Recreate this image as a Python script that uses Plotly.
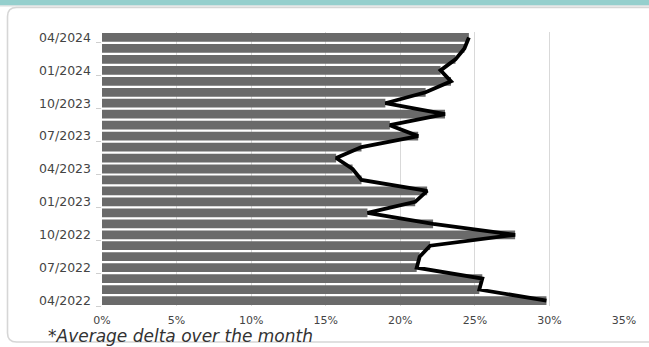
import plotly.graph_objects as go

# Monthly average delta, oldest month first
months = [
    "04/2022", "05/2022", "06/2022", "07/2022", "08/2022", "09/2022",
    "10/2022", "11/2022", "12/2022", "01/2023", "02/2023", "03/2023",
    "04/2023", "05/2023", "06/2023", "07/2023", "08/2023", "09/2023",
    "10/2023", "11/2023", "12/2023", "01/2024", "02/2024", "03/2024",
    "04/2024",
]
avg_delta = [
    29.8, 25.3, 25.5, 21.1, 21.3, 22.0,
    27.7, 22.2, 17.8, 21.0, 21.8, 17.4,
    16.8, 15.7, 17.4, 21.2, 19.3, 23.0,
    19.0, 21.7, 23.4, 22.7, 23.7, 24.3,
    24.6,
]
labelled_months = ["04/2022", "07/2022", "10/2022", "01/2023", "04/2023",
                   "07/2023", "10/2023", "01/2024", "04/2024"]
x_ticks = [0, 5, 10, 15, 20, 25, 30, 35]
footnote = "*Average delta over the month"

W, H = 649, 347
L, R, T, B = 102, 25, 32, 41
PW, PH = W - L - R, H - T - B

def px_x(px):
    return (px - L) / PW

def px_y(py):
    return (H - B - py) / PH

pos = list(range(len(months)))
label_pos = [months.index(m) for m in labelled_months]

FONT = "DejaVu Sans"
TXT = "#444444"

fig = go.Figure()
fig.add_trace(go.Bar(
    x=avg_delta, y=pos, orientation="h",
    marker=dict(color="#6a6a6a", line=dict(width=0)),
    hoverinfo="skip",
))
fig.add_trace(go.Scatter(
    x=avg_delta, y=pos, mode="lines",
    line=dict(color="#000000", width=3.8),
    hoverinfo="skip",
))

# card frame and coloured header strip
r = 9
x0, y0, x1, y1 = px_x(7.5), px_y(7.5), px_x(720), px_y(342)
rx, ry = r / PW, r / PH
card = (f"M {x1},{y0} L {x0+rx},{y0} Q {x0},{y0} {x0},{y0-ry} "
        f"L {x0},{y1+ry} Q {x0},{y1} {x0+rx},{y1} L {x1},{y1}")
shapes = [
    dict(type="rect", xref="paper", yref="paper", layer="below",
         x0=px_x(-5), x1=px_x(W + 5), y0=px_y(5.5), y1=px_y(-5),
         fillcolor="#95cfcd", line=dict(width=0)),
    dict(type="rect", xref="paper", yref="paper", layer="below",
         x0=px_x(-5), x1=px_x(W + 5), y0=px_y(6.5), y1=px_y(5.5),
         fillcolor="#dcdcdc", line=dict(width=0)),
    dict(type="path", xref="paper", yref="paper", layer="below",
         path=card, line=dict(color="#d6d6d6", width=1.6)),
]

fig.update_layout(
    width=W, height=H,
    margin=dict(l=L, r=R, t=T, b=B, pad=0),
    paper_bgcolor="#ffffff", plot_bgcolor="#ffffff",
    showlegend=False, bargap=0.2,
    font=dict(family=FONT, size=11, color=TXT),
    shapes=shapes,
    xaxis=dict(
        range=[0, 35], tickvals=x_ticks,
        ticktext=[f"{v}%" for v in x_ticks],
        showgrid=True, gridcolor="#d9d9d9", gridwidth=1.2,
        zeroline=False, showline=False, ticks="",
        ticklabelstandoff=6,
        tickfont=dict(family=FONT, size=11, color=TXT),
    ),
    yaxis=dict(
        range=[-0.5, len(months) - 0.5],
        tickvals=label_pos, ticktext=labelled_months,
        showgrid=False, zeroline=False, showline=False, ticks="",
        ticklabelstandoff=10,
        tickfont=dict(family=FONT, size=12.5, color=TXT),
        minor=dict(tickvals=[p - 0.5 for p in label_pos], ticks="outside",
                   ticklen=5, tickcolor="#cfcfcf", tickwidth=1.2,
                   showgrid=False),
    ),
    annotations=[dict(
        text=footnote, xref="paper", yref="paper",
        x=px_x(46), y=px_y(336), xanchor="left", yanchor="middle",
        showarrow=False,
        font=dict(family=FONT, size=17, color="#333333", style="italic"),
    )],
)

fig.write_html("out.html")
